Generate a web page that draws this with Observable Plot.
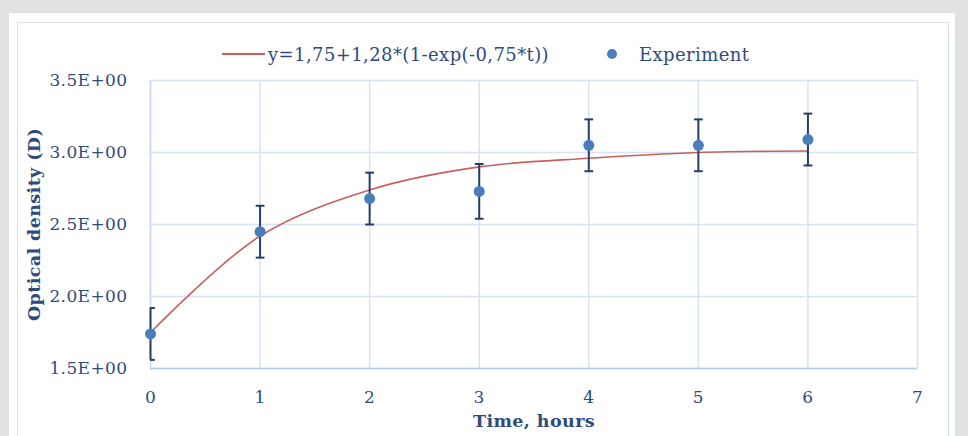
<!DOCTYPE html>
<html>
<head>
<meta charset="utf-8">
<script src="https://cdn.jsdelivr.net/npm/d3@7"></script>
<script src="https://cdn.jsdelivr.net/npm/@observablehq/plot@0.6"></script>
<style>
  html, body { margin: 0; padding: 0; background: #e1e1e1; width: 968px; height: 436px; overflow: hidden; }
  #wrap { position: relative; width: 968px; height: 436px; }
  #panel { position: absolute; left: 9px; top: 13px; width: 946px; height: 440px; background: #fff; }
  #inner { position: absolute; left: 17px; top: 22px; width: 930px; height: 430px; border: 1px solid #d5e2f3; }
  #chart { position: absolute; left: 0; top: 0; }
  #legend { position: absolute; left: 0; top: 40px; width: 968px; height: 28px; font-family: "DejaVu Serif", serif; font-size: 18px; letter-spacing: 0.4px; color: #2f4b7c; }
  .li { position: absolute; top: 0; display: flex; align-items: center; height: 28px; white-space: nowrap; }
  .sw-line { width: 43px; height: 2px; background: #c9605c; margin-right: 3px; }
  .sw-dot { width: 10px; height: 10px; border-radius: 50%; background: #4a7ebb; margin-right: 22px; }
</style>
</head>
<body>
<div id="wrap">
  <div id="panel"></div>
  <div id="inner"></div>
  <div id="chart"></div>
  <div id="legend">
    <div class="li" style="left:222px"><span class="sw-line"></span><span id="fitLabel"></span></div>
    <div class="li" style="left:607px"><span class="sw-dot"></span><span id="expLabel"></span></div>
  </div>
</div>
<script>
// ---- data ----
const times = [0, 1, 2, 3, 4, 5, 6];
const measured = [1.74, 2.45, 2.68, 2.73, 3.05, 3.05, 3.09];
const errors = [0.18, 0.18, 0.18, 0.19, 0.18, 0.18, 0.18];
const fitted = [1.75, 2.42, 2.74, 2.90, 2.96, 3.00, 3.01];
const xTicks = [0, 1, 2, 3, 4, 5, 6, 7];
const yTicks = [1.5, 2.0, 2.5, 3.0, 3.5];
const fitName = "y=1,75+1,28*(1-exp(-0,75*t))";
const expName = "Experiment";
const xTitle = "Time, hours";
const yTitle = "Optical density (D)";

document.getElementById("fitLabel").textContent = fitName;
document.getElementById("expLabel").textContent = expName;

const rows = times.map((t, i) => ({t, v: measured[i], e: errors[i], f: fitted[i]}));
const capHalf = 0.04;

const textColor = "#2f4b7c";
const gridColor = "#d6e3f4";
const font = "'DejaVu Serif', serif";

const chart = Plot.plot({
  width: 968,
  height: 436,
  marginLeft: 150,
  marginRight: 51,
  marginTop: 80,
  marginBottom: 68,
  style: {fontFamily: font, fontSize: "17px", letterSpacing: "0.4px", color: textColor, background: "transparent", overflow: "visible"},
  x: {domain: [0, 7]},
  y: {domain: [1.5, 3.5]},
  marks: [
    Plot.gridX(xTicks, {stroke: gridColor, strokeOpacity: 1, strokeWidth: 1.5}),
    Plot.gridY(yTicks, {stroke: gridColor, strokeOpacity: 1, strokeWidth: 1.5}),
    Plot.ruleY([1.5], {stroke: "#b3c8e8", strokeWidth: 1.5}),
    Plot.ruleX([0], {stroke: "#c9d9f0", strokeWidth: 1.5}),
    Plot.axisX(xTicks, {tickSize: 0, tickPadding: 22, fontSize: 17, fill: textColor, label: null, tickFormat: d => String(d)}),
    Plot.axisY(yTicks, {tickSize: 0, tickPadding: 23, fontSize: 17, fill: textColor, label: null, tickFormat: d => d.toFixed(1) + "E+00"}),
    Plot.line(rows, {x: "t", y: "f", curve: "catmull-rom", stroke: "#c9605c", strokeWidth: 1.6}),
    Plot.ruleX(rows, {x: "t", y1: d => d.v - d.e, y2: d => d.v + d.e, stroke: "#243f66", strokeWidth: 2}),
    Plot.link(rows, {x1: d => d.t - capHalf, x2: d => d.t + capHalf, y1: d => d.v + d.e, y2: d => d.v + d.e, stroke: "#243f66", strokeWidth: 2, clip: "frame"}),
    Plot.link(rows, {x1: d => d.t - capHalf, x2: d => d.t + capHalf, y1: d => d.v - d.e, y2: d => d.v - d.e, stroke: "#243f66", strokeWidth: 2, clip: "frame"}),
    Plot.dot(rows, {x: "t", y: "v", r: 5.5, fill: "#4a7ebb", stroke: "none"}),
    Plot.text([xTitle], {frameAnchor: "bottom", lineAnchor: "middle", textAnchor: "middle", dy: 53, fontWeight: "bold", fontSize: 17.5, fill: textColor}),
    Plot.text([yTitle], {frameAnchor: "left", lineAnchor: "middle", textAnchor: "middle", dx: -116, rotate: -90, fontWeight: "bold", fontSize: 17.5, fill: textColor})
  ]
});
document.getElementById("chart").appendChild(chart);
</script>
</body>
</html>
